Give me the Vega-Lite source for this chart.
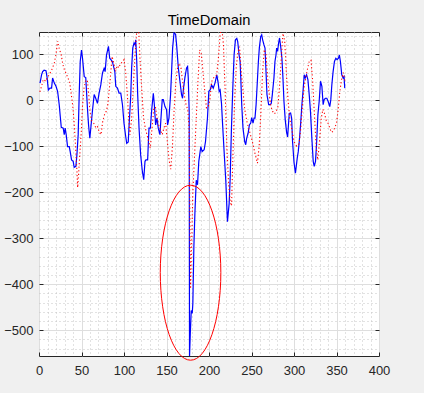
{
  "$schema": "https://vega.github.io/schema/vega-lite/v6.json",
  "width": 340,
  "height": 324,
  "autosize": {"type": "none"},
  "padding": {"left": 39, "top": 32, "right": 45, "bottom": 37},
  "background": "#f0f0f0",
  "config": {
    "view": {"fill": "white", "stroke": "#262626", "strokeWidth": 1},
    "font": "Liberation Sans",
    "axis": {
      "domain": false,
      "labelFont": "Liberation Sans",
      "labelFontSize": 13,
      "labelColor": "#262626",
      "tickColor": "#262626",
      "labelOverlap": false,
      "labelFlush": false,
      "title": null
    }
  },
  "title": {
    "text": "TimeDomain",
    "font": "Liberation Sans",
    "fontSize": 14.7,
    "fontWeight": "normal",
    "color": "#000000",
    "anchor": "middle",
    "baseline": "alphabetic",
    "offset": -10
  },
  "datasets": {
    "blue": [
      {"x": 1.2, "y": 37}, {"x": 3, "y": 55}, {"x": 4.3, "y": 62}, {"x": 6, "y": 65}, {"x": 8.2, "y": 64},
      {"x": 9.4, "y": 51}, {"x": 11, "y": 22}, {"x": 12.9, "y": 26}, {"x": 14.8, "y": 26}, {"x": 16, "y": 48},
      {"x": 18, "y": 37}, {"x": 20, "y": 30}, {"x": 21.9, "y": 19}, {"x": 23.8, "y": -10}, {"x": 25, "y": -35},
      {"x": 26.2, "y": -59}, {"x": 28.5, "y": -61}, {"x": 29.7, "y": -75}, {"x": 30.8, "y": -61}, {"x": 32, "y": -75},
      {"x": 33.6, "y": -101}, {"x": 35.6, "y": -101}, {"x": 36.7, "y": -112}, {"x": 38.3, "y": -130}, {"x": 40.2, "y": -133},
      {"x": 41.4, "y": -146}, {"x": 43.4, "y": -144}, {"x": 44.6, "y": -119}, {"x": 46.1, "y": -75}, {"x": 47.3, "y": 12},
      {"x": 48.5, "y": 84}, {"x": 50, "y": 109}, {"x": 51.2, "y": 91}, {"x": 53.2, "y": 51}, {"x": 55, "y": 49},
      {"x": 57.1, "y": -21}, {"x": 58.3, "y": -54}, {"x": 59.8, "y": -83}, {"x": 61.3, "y": -54}, {"x": 63, "y": -21},
      {"x": 64.9, "y": 12}, {"x": 66.7, "y": 4}, {"x": 68.8, "y": -7}, {"x": 70.7, "y": 15}, {"x": 72.7, "y": 33},
      {"x": 74.7, "y": 59}, {"x": 76.6, "y": 69}, {"x": 77.8, "y": 62}, {"x": 79.4, "y": 98}, {"x": 81.7, "y": 117},
      {"x": 83.2, "y": 91}, {"x": 86.3, "y": 84}, {"x": 89.2, "y": 62}, {"x": 90.3, "y": 30}, {"x": 92.3, "y": 26},
      {"x": 94.2, "y": 15}, {"x": 96.2, "y": 15}, {"x": 98.2, "y": -10}, {"x": 100, "y": -50}, {"x": 102, "y": -79},
      {"x": 103.2, "y": -94}, {"x": 105, "y": -91}, {"x": 106, "y": -54}, {"x": 108, "y": 12}, {"x": 109, "y": 70},
      {"x": 110.3, "y": 113}, {"x": 111.8, "y": 124}, {"x": 113, "y": 120}, {"x": 113.8, "y": 131}, {"x": 115, "y": 84},
      {"x": 116.1, "y": 12}, {"x": 117.7, "y": -61}, {"x": 119.6, "y": -119}, {"x": 121.6, "y": -155}, {"x": 123.2, "y": -173},
      {"x": 124.7, "y": -133}, {"x": 125.8, "y": -130}, {"x": 127.8, "y": -130}, {"x": 129.4, "y": -61}, {"x": 131, "y": -61},
      {"x": 132.6, "y": -21}, {"x": 134.5, "y": 15}, {"x": 135.7, "y": -10}, {"x": 137.2, "y": -54}, {"x": 138.8, "y": -39},
      {"x": 140.3, "y": -61}, {"x": 142.3, "y": -75}, {"x": 143.5, "y": -39}, {"x": 145, "y": 1}, {"x": 146.2, "y": 1},
      {"x": 148.2, "y": -14}, {"x": 150.1, "y": -21}, {"x": 151.3, "y": -54}, {"x": 152.9, "y": -39}, {"x": 154.8, "y": 12},
      {"x": 156, "y": 62}, {"x": 157.2, "y": 113}, {"x": 158.8, "y": 146}, {"x": 160.7, "y": 143}, {"x": 161.9, "y": 120},
      {"x": 163.9, "y": 70}, {"x": 165.8, "y": 41}, {"x": 167.7, "y": 12}, {"x": 168.9, "y": 4}, {"x": 170, "y": 26},
      {"x": 171.6, "y": 48}, {"x": 173.6, "y": 70}, {"x": 174.8, "y": 73}, {"x": 175.6, "y": 48}, {"x": 176.7, "y": -25},
      {"x": 177.1, "y": -556}, {"x": 178, "y": -507}, {"x": 179.1, "y": -457}, {"x": 180.3, "y": -463}, {"x": 181, "y": -442},
      {"x": 182.2, "y": -319}, {"x": 183.4, "y": -246}, {"x": 185, "y": -174}, {"x": 186.5, "y": -184}, {"x": 188, "y": -133},
      {"x": 190.4, "y": -101}, {"x": 191.9, "y": -112}, {"x": 194.3, "y": -108}, {"x": 195.9, "y": -90}, {"x": 198.2, "y": -39},
      {"x": 199.8, "y": 19}, {"x": 201.4, "y": 22}, {"x": 203, "y": 33}, {"x": 205, "y": 26}, {"x": 207, "y": 37},
      {"x": 209.2, "y": 55}, {"x": 210.8, "y": 37}, {"x": 212, "y": 19}, {"x": 213.1, "y": 22}, {"x": 214.7, "y": -7},
      {"x": 215.8, "y": -46}, {"x": 217.8, "y": -112}, {"x": 219.8, "y": -177}, {"x": 221.7, "y": -264}, {"x": 223.7, "y": -225},
      {"x": 224.9, "y": -170}, {"x": 226.4, "y": -61}, {"x": 228, "y": 26}, {"x": 229.5, "y": 98}, {"x": 231.1, "y": 131},
      {"x": 232.7, "y": 134}, {"x": 233.8, "y": 127}, {"x": 235.4, "y": 98}, {"x": 236.6, "y": 84}, {"x": 237.4, "y": 48},
      {"x": 238.5, "y": -10}, {"x": 240, "y": -61}, {"x": 242, "y": -90}, {"x": 243.2, "y": -97}, {"x": 244.3, "y": -83},
      {"x": 246, "y": -72}, {"x": 247.5, "y": -54}, {"x": 249.1, "y": -50}, {"x": 250.2, "y": -38}, {"x": 251.8, "y": -50},
      {"x": 253, "y": -39}, {"x": 254.1, "y": -39}, {"x": 255.4, "y": -10}, {"x": 256.9, "y": 41}, {"x": 258.1, "y": 84},
      {"x": 259.2, "y": 113}, {"x": 260.8, "y": 138}, {"x": 262, "y": 142}, {"x": 263.1, "y": 131}, {"x": 264.7, "y": 120},
      {"x": 265.9, "y": 113}, {"x": 267.4, "y": 48}, {"x": 268.2, "y": 12}, {"x": 270.2, "y": -10}, {"x": 272.1, "y": -10},
      {"x": 273.3, "y": -7}, {"x": 274.5, "y": 12}, {"x": 276.4, "y": 48}, {"x": 277.6, "y": 84}, {"x": 278.8, "y": 98},
      {"x": 279.6, "y": 113}, {"x": 280.7, "y": 106}, {"x": 281.9, "y": 124}, {"x": 283, "y": 135}, {"x": 284.3, "y": 117},
      {"x": 285.8, "y": 91}, {"x": 287, "y": 48}, {"x": 288.2, "y": -3}, {"x": 289.7, "y": -43}, {"x": 291.3, "y": -70},
      {"x": 292.5, "y": -80}, {"x": 294.4, "y": -29}, {"x": 296, "y": -28}, {"x": 297.2, "y": -39}, {"x": 298.3, "y": -90},
      {"x": 300, "y": -135}, {"x": 301.7, "y": -159}, {"x": 303.8, "y": -126}, {"x": 305, "y": -112}, {"x": 306.2, "y": -90},
      {"x": 307.7, "y": -54}, {"x": 309.3, "y": -10}, {"x": 310.9, "y": 26}, {"x": 312, "y": 55}, {"x": 313.2, "y": 48},
      {"x": 314.8, "y": 55}, {"x": 316.4, "y": 44}, {"x": 317.9, "y": 12}, {"x": 319.4, "y": -25}, {"x": 321, "y": -83},
      {"x": 322.6, "y": -133}, {"x": 323.8, "y": -144}, {"x": 325.3, "y": -133}, {"x": 326.5, "y": -97}, {"x": 328.1, "y": -32},
      {"x": 329.6, "y": -3}, {"x": 331.2, "y": 41}, {"x": 332.8, "y": 30}, {"x": 334.3, "y": -10}, {"x": 335.5, "y": 1},
      {"x": 337, "y": 4}, {"x": 338.6, "y": 4}, {"x": 340.2, "y": -3}, {"x": 342.1, "y": -14}, {"x": 343.3, "y": 1},
      {"x": 344.5, "y": 33}, {"x": 346, "y": 62}, {"x": 347.6, "y": 84}, {"x": 349.2, "y": 91}, {"x": 350.7, "y": 88},
      {"x": 352.3, "y": 91}, {"x": 353.4, "y": 98}, {"x": 354.6, "y": 84}, {"x": 356.2, "y": 55}, {"x": 357.8, "y": 48},
      {"x": 358.9, "y": 51}, {"x": 359.7, "y": 26}
    ],
    "red": [
      {"x": 1, "y": 18}, {"x": 3, "y": 30}, {"x": 5, "y": 45}, {"x": 8, "y": 41}, {"x": 10, "y": 50},
      {"x": 12, "y": 55}, {"x": 15, "y": 66}, {"x": 18, "y": 80}, {"x": 20, "y": 100}, {"x": 22, "y": 128},
      {"x": 24, "y": 110}, {"x": 26, "y": 100}, {"x": 28, "y": 78}, {"x": 30, "y": 65}, {"x": 32, "y": 58},
      {"x": 34, "y": 48}, {"x": 36, "y": 40}, {"x": 38, "y": 12}, {"x": 40, "y": -17}, {"x": 41.5, "y": -54},
      {"x": 43, "y": -100}, {"x": 44.5, "y": -150}, {"x": 45.5, "y": -190}, {"x": 47, "y": -148}, {"x": 48.5, "y": -104},
      {"x": 50, "y": -61}, {"x": 51, "y": -17}, {"x": 53, "y": 26}, {"x": 55, "y": 44}, {"x": 57, "y": 41},
      {"x": 58.5, "y": 12}, {"x": 60, "y": -25}, {"x": 62, "y": -45}, {"x": 65, "y": -52}, {"x": 67, "y": -61},
      {"x": 69, "y": -58}, {"x": 71, "y": -70}, {"x": 73, "y": -75}, {"x": 75, "y": -46}, {"x": 77, "y": -32},
      {"x": 79, "y": -25}, {"x": 81, "y": -10}, {"x": 82, "y": 10}, {"x": 84, "y": 50}, {"x": 86, "y": 95},
      {"x": 88, "y": 80}, {"x": 90, "y": 62}, {"x": 92, "y": 75}, {"x": 94, "y": 70}, {"x": 96, "y": 80},
      {"x": 98, "y": 82}, {"x": 100, "y": 88}, {"x": 102, "y": 60}, {"x": 104, "y": 10}, {"x": 105.5, "y": -40},
      {"x": 107, "y": -75}, {"x": 109, "y": -40}, {"x": 111, "y": 30}, {"x": 113, "y": 100}, {"x": 115, "y": 150},
      {"x": 117, "y": 160}, {"x": 119, "y": 84}, {"x": 121, "y": 20}, {"x": 123, "y": -39}, {"x": 125, "y": -60},
      {"x": 127, "y": -75}, {"x": 129, "y": -90}, {"x": 131, "y": -104}, {"x": 133, "y": -60}, {"x": 135, "y": -20},
      {"x": 137, "y": -15}, {"x": 139, "y": -40}, {"x": 141, "y": -55}, {"x": 143, "y": -65}, {"x": 145, "y": -75},
      {"x": 147, "y": -60}, {"x": 149, "y": -50}, {"x": 151, "y": -90}, {"x": 153, "y": -130}, {"x": 155, "y": -150},
      {"x": 157, "y": -100}, {"x": 159, "y": -20}, {"x": 161, "y": 40}, {"x": 163, "y": 70}, {"x": 165, "y": 80},
      {"x": 167, "y": 70}, {"x": 169, "y": 40}, {"x": 171, "y": 10}, {"x": 173, "y": -10}, {"x": 175, "y": -20},
      {"x": 176.5, "y": -60}, {"x": 177.5, "y": -250}, {"x": 178.3, "y": -410}, {"x": 179.5, "y": -320}, {"x": 181, "y": -200},
      {"x": 183, "y": -120}, {"x": 185, "y": -40}, {"x": 187, "y": 40}, {"x": 189, "y": 109}, {"x": 191, "y": 100},
      {"x": 193, "y": 60}, {"x": 195, "y": 20}, {"x": 197, "y": -17}, {"x": 199, "y": -15}, {"x": 201, "y": 0},
      {"x": 203, "y": 40}, {"x": 206, "y": 50}, {"x": 209, "y": 55}, {"x": 211, "y": 90}, {"x": 213, "y": 140},
      {"x": 215, "y": 160}, {"x": 217, "y": 120}, {"x": 219, "y": 20}, {"x": 221, "y": -100}, {"x": 223, "y": -180},
      {"x": 225, "y": -220}, {"x": 226.5, "y": -230}, {"x": 228, "y": -130}, {"x": 230, "y": -10}, {"x": 232, "y": 70},
      {"x": 234, "y": 105}, {"x": 236, "y": 116}, {"x": 238, "y": 60}, {"x": 240, "y": 20}, {"x": 242, "y": -20},
      {"x": 245, "y": -50}, {"x": 248, "y": -70}, {"x": 251, "y": -90}, {"x": 254, "y": -115}, {"x": 257, "y": -137},
      {"x": 259, "y": -100}, {"x": 261, "y": -30}, {"x": 263, "y": 60}, {"x": 265, "y": 110}, {"x": 267, "y": 100},
      {"x": 269, "y": 50}, {"x": 271, "y": 10}, {"x": 273, "y": -15}, {"x": 275, "y": -25}, {"x": 277, "y": -30},
      {"x": 279, "y": -25}, {"x": 281, "y": -15}, {"x": 283, "y": 30}, {"x": 285, "y": 90}, {"x": 287, "y": 145},
      {"x": 289, "y": 130}, {"x": 291, "y": 60}, {"x": 293, "y": 0}, {"x": 295, "y": -40}, {"x": 298, "y": -70},
      {"x": 300, "y": -90}, {"x": 303, "y": -100}, {"x": 306, "y": -95}, {"x": 308, "y": -60}, {"x": 310, "y": -10},
      {"x": 312, "y": 30}, {"x": 315, "y": 60}, {"x": 318, "y": 85}, {"x": 320, "y": 87}, {"x": 322, "y": 40},
      {"x": 324, "y": -30}, {"x": 326, "y": -100}, {"x": 328, "y": -130}, {"x": 330, "y": -90}, {"x": 332, "y": -40},
      {"x": 334, "y": -20}, {"x": 336, "y": -30}, {"x": 338, "y": -45}, {"x": 340, "y": -50}, {"x": 342, "y": -60},
      {"x": 344, "y": -70}, {"x": 346, "y": -68}, {"x": 348, "y": -60}, {"x": 350, "y": -50}, {"x": 352, "y": -20},
      {"x": 354, "y": 20}, {"x": 356, "y": 45}, {"x": 358, "y": 60}, {"x": 360, "y": 40}
    ],
    "ellipse": [{"x": 178.3, "y": -375}]
  },
  "resolve": {"axis": {"x": "independent", "y": "independent"}},
  "layer": [
    {
      "data": {"name": "blue"},
      "mark": {"type": "line", "color": "#0000ff", "strokeWidth": 1.2, "clip": true},
      "encoding": {
        "x": {
          "field": "x", "type": "quantitative",
          "scale": {"domain": [0, 400], "nice": false, "zero": false},
          "axis": {
            "orient": "bottom",
            "values": [0,10,20,30,40,50,60,70,80,90,100,110,120,130,140,150,160,170,180,190,200,210,220,230,240,250,260,270,280,290,300,310,320,330,340,350,360,370,380,390,400],
            "labelExpr": "datum.value % 50 === 0 ? datum.label : ''",
            "grid": true,
            "gridColor": {"condition": {"test": "datum.value % 50 !== 0", "value": "#c4c4c4"}, "value": "#dedede"},
            "gridDash": {"condition": {"test": "datum.value % 50 !== 0", "value": [1, 3]}, "value": []},
            "tickOpacity": {"condition": {"test": "datum.value % 50 !== 0", "value": 0}, "value": 1},
            "tickSize": -4,
            "labelPadding": 12
          }
        },
        "y": {
          "field": "y", "type": "quantitative",
          "scale": {"domain": [-556, 148], "nice": false, "zero": false},
          "axis": {
            "orient": "left",
            "values": [-540,-520,-500,-480,-460,-440,-420,-400,-380,-360,-340,-320,-300,-280,-260,-240,-220,-200,-180,-160,-140,-120,-100,-80,-60,-40,-20,0,20,40,60,80,100,120,140],
            "labelExpr": "datum.value % 100 === 0 ? datum.label : ''",
            "grid": true,
            "gridColor": {"condition": {"test": "datum.value % 100 !== 0", "value": "#c4c4c4"}, "value": "#dedede"},
            "gridDash": {"condition": {"test": "datum.value % 100 !== 0", "value": [1, 3]}, "value": []},
            "tickOpacity": {"condition": {"test": "datum.value % 100 !== 0", "value": 0}, "value": 1},
            "tickSize": -4,
            "labelPadding": 10
          }
        }
      }
    },
    {
      "data": {"name": "red"},
      "mark": {"type": "line", "color": "#ff0000", "strokeWidth": 1.1, "strokeDash": [1.2, 2.4], "clip": true},
      "encoding": {
        "x": {"field": "x", "type": "quantitative", "axis": null},
        "y": {"field": "y", "type": "quantitative", "axis": null}
      }
    },
    {
      "data": {"name": "ellipse"},
      "mark": {
        "type": "point",
        "shape": "M -0.346 0 C -0.346 -0.552 -0.191 -1 0 -1 C 0.191 -1 0.346 -0.552 0.346 0 C 0.346 0.552 0.191 1 0 1 C -0.191 1 -0.346 0.552 -0.346 0 Z",
        "size": 30625,
        "filled": false,
        "stroke": "#ff0000",
        "strokeWidth": 1,
        "opacity": 1
      },
      "encoding": {
        "x": {
          "field": "x", "type": "quantitative",
          "axis": {"orient": "top", "values": [0,50,100,150,200,250,300,350,400], "labels": false, "grid": false, "tickSize": -4}
        },
        "y": {
          "field": "y", "type": "quantitative",
          "axis": {"orient": "right", "values": [-500,-400,-300,-200,-100,0,100], "labels": false, "grid": false, "tickSize": -4}
        }
      }
    }
  ]
}
